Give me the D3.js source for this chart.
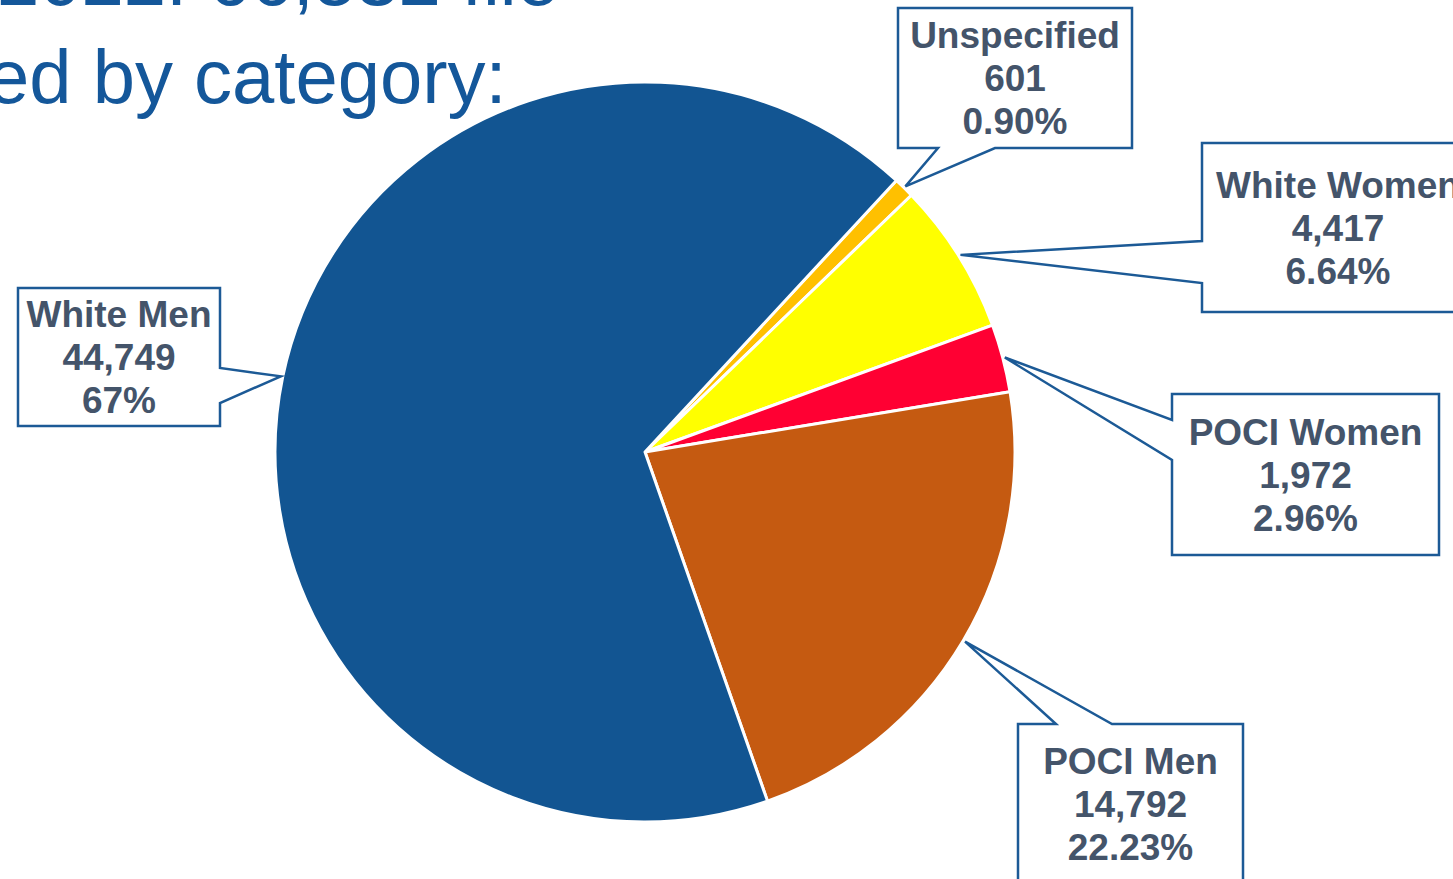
<!DOCTYPE html>
<html>
<head>
<meta charset="utf-8">
<script src="https://cdn.jsdelivr.net/npm/d3@7"></script>
<style>
  html, body { margin: 0; padding: 0; background: #fff; overflow: hidden; }
  svg { display: block; }
</style>
</head>
<body>
<svg id="chart" width="1453" height="879"></svg>
<script>
// ---- data ----
const categories = ["Unspecified", "White Women", "POCI Women", "POCI Men", "White Men"];
const values = [601, 4417, 1972, 14792, 44749];
const pctLabels = ["0.90%", "6.64%", "2.96%", "22.23%", "67%"];
const sliceColors = ["#FFC000", "#FFFF00", "#FF0033", "#C55A11", "#125592"];
const titleLines = ["2022: 66,532 file", "ed by category:"];

// ---- layout (callout boxes) ----
const boxes = [
  { x: 898,  y: 8,   w: 234, h: 140, side: "bottom", b1: 938, b2: 995 },
  { x: 1202, y: 143, w: 272, h: 169, side: "left",   b1: 241, b2: 283 },
  { x: 1172, y: 394, w: 267, h: 161, side: "left",   b1: 420, b2: 460 },
  { x: 1018, y: 724, w: 225, h: 160, side: "top",    b1: 1056, b2: 1112 },
  { x: 18,   y: 288, w: 202, h: 138, side: "right",  b1: 368, b2: 403 }
];

const W = 1453, H = 879;
const cx = 645, cy = 452, R = 370;
const svg = d3.select("#chart");

// title
const title = svg.append("g");
title.append("text").attr("x", -3).attr("y", 5)
  .attr("font-family", "Liberation Sans, Arial, sans-serif")
  .attr("font-size", 76).attr("fill", "#14579A").text(titleLines[0]);
title.append("text").attr("x", -13).attr("y", 103)
  .attr("font-family", "Liberation Sans, Arial, sans-serif")
  .attr("font-size", 76).attr("fill", "#14579A").text(titleLines[1]);

// pie
const start = 42.8 * Math.PI / 180;
const pie = d3.pie().sort(null).value(d => d).startAngle(start).endAngle(start + 2 * Math.PI);
const arcs = pie(values);
const arc = d3.arc().innerRadius(0).outerRadius(R);
const tipArc = d3.arc().innerRadius(372).outerRadius(372);

const g = svg.append("g").attr("transform", `translate(${cx},${cy})`);
g.selectAll("path.slice").data(arcs).join("path")
  .attr("class", "slice")
  .attr("d", arc)
  .attr("fill", (d, i) => sliceColors[i])
  .attr("stroke", "#fff")
  .attr("stroke-width", 3)
  .attr("stroke-linejoin", "round");

// callouts
const fmt = d3.format(",");
arcs.forEach((a, i) => {
  const b = boxes[i];
  const c = tipArc.centroid(a);
  const tx = cx + c[0], ty = cy + c[1];
  let pts;
  const x0 = b.x, y0 = b.y, x1 = b.x + b.w, y1 = b.y + b.h;
  if (b.side === "left") {
    pts = [[x0, y0], [x1, y0], [x1, y1], [x0, y1], [x0, b.b2], [tx, ty], [x0, b.b1]];
  } else if (b.side === "right") {
    pts = [[x0, y0], [x1, y0], [x1, b.b1], [tx, ty], [x1, b.b2], [x1, y1], [x0, y1]];
  } else if (b.side === "bottom") {
    pts = [[x0, y0], [x1, y0], [x1, y1], [b.b2, y1], [tx, ty], [b.b1, y1], [x0, y1]];
  } else {
    pts = [[x0, y0], [b.b1, y0], [tx, ty], [b.b2, y0], [x1, y0], [x1, y1], [x0, y1]];
  }
  svg.append("path")
    .attr("d", d3.line()(pts) + "Z")
    .attr("fill", "#fff")
    .attr("stroke", "#1C5A96")
    .attr("stroke-width", 2.5)
    .attr("stroke-linejoin", "miter");

  const mx = (x0 + x1) / 2;
  const my = (y0 + y1) / 2 + 13;
  const lines = [categories[i], fmt(values[i]), pctLabels[i]];
  const t = svg.append("text")
    .attr("text-anchor", "middle")
    .attr("font-family", "Liberation Sans, Arial, sans-serif")
    .attr("font-weight", "bold")
    .attr("font-size", 37)
    .attr("fill", "#44546A");
  lines.forEach((s, k) => {
    t.append("tspan").attr("x", mx).attr("y", my + (k - 1) * 43).text(s);
  });
});
</script>
</body>
</html>
